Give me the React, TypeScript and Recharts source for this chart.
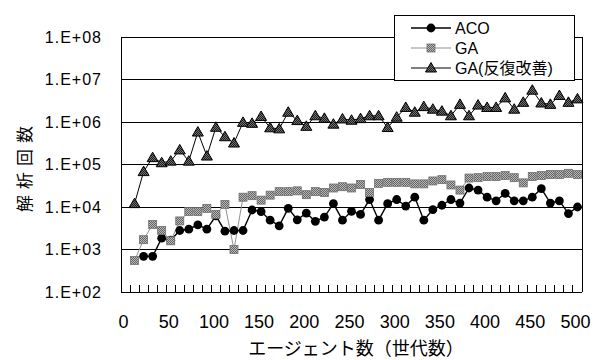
import React from 'react';
import { LineChart, Line, XAxis, YAxis, ReferenceLine } from 'recharts';

const generations = [
  10, 20, 30, 40, 50, 60, 70, 80, 90, 100,
  110, 120, 130, 140, 150, 160, 170, 180, 190, 200,
  210, 220, 230, 240, 250, 260, 270, 280, 290, 300,
  310, 320, 330, 340, 350, 360, 370, 380, 390, 400,
  410, 420, 430, 440, 450, 460, 470, 480, 490, 500,
];

const acoValues: (number | null)[] = [
  null, 690, 690, 1850, 1650, 2800, 3000, 3800, 3000, 6200,
  2700, 2800, 2800, 8500, 7800, 4900, 3600, 9300, 5000, 7200,
  4600, 5800, 12000, 4900, 7900, 6700, 15000, 4900, 12000, 15000,
  10500, 17000, 4900, 8700, 11000, 15000, 12400, 28000, 25000, 17000,
  14000, 21000, 14000, 14000, 17000, 27000, 12400, 14000, 7000, 10000,
];

const gaValues = [
  550, 1700, 3900, 2800, 1600, 4700, 7800, 7800, 9300, 6700,
  11500, 1000, 17000, 18500, 14500, 19000, 23000, 23000, 24000, 19500,
  23000, 22000, 28000, 30000, 28000, 34000, 22000, 36000, 38000, 38000,
  38000, 35000, 35000, 41000, 44000, 33000, 25000, 48000, 49000, 52000,
  52000, 55000, 49000, 37000, 52000, 55000, 58000, 58000, 62000, 58000,
];

const gaImprovedValues = [
  12000, 68000, 145000, 110000, 120000, 220000, 120000, 580000, 158000, 750000,
  450000, 320000, 980000, 930000, 1350000, 730000, 690000, 1700000, 1080000, 790000,
  1400000, 1220000, 890000, 1180000, 1100000, 1200000, 1400000, 1400000, 740000, 1300000,
  2200000, 1700000, 2300000, 2000000, 1800000, 1400000, 2600000, 1400000, 2500000, 2200000,
  2200000, 3700000, 2000000, 2900000, 5600000, 2800000, 2600000, 4200000, 2900000, 3500000,
];

const yTicks = [1e2, 1e3, 1e4, 1e5, 1e6, 1e7, 1e8];
const xMajorTicks = [0, 50, 100, 150, 200, 250, 300, 350, 400, 450, 500];
const xMinorTicks = [
  5, 15, 25, 35, 45, 55, 65, 75, 85, 95,
  105, 115, 125, 135, 145, 155, 165, 175, 185, 195,
  205, 215, 225, 235, 245, 255, 265, 275, 285, 295,
  305, 315, 325, 335, 345, 355, 365, 375, 385, 395,
  405, 415, 425, 435, 445, 455, 465, 475, 485, 495,
];
const seriesNames = ['ACO', 'GA', 'GA(反復改善)'];
const yTitle = '解析回数';
const xTitle = 'エージェント数（世代数）';

const data = generations.map((g, i) => ({
  x: g,
  aco: acoValues[i],
  ga: gaValues[i],
  gai: gaImprovedValues[i],
}));

const LATIN = "'Liberation Sans', Arial, sans-serif";
const CJK = "'Liberation Sans', 'Noto Sans CJK JP', sans-serif";

const CircleMark = ({ cx, cy }: { cx: number; cy: number }) => (
  <circle cx={cx} cy={cy} r={4.4} fill="#000" />
);
const SquareMark = ({ cx, cy }: { cx: number; cy: number }) => (
  <rect x={cx - 4} y={cy - 4} width={8} height={8} fill="url(#checker)" stroke="#707070" strokeWidth={0.8} />
);
const TriMark = ({ cx, cy }: { cx: number; cy: number }) => (
  <path
    d={`M${cx},${cy - 5.5} L${cx + 5.5},${cy + 4} L${cx - 5.5},${cy + 4} Z`}
    fill="url(#darkChecker)"
    stroke="#000"
    strokeWidth={1}
  />
);

const makeDot = (Mark: any) => (p: any) => {
  const key = `dot-${p.dataKey}-${p.index}`;
  if (p.cx == null || p.cy == null || p.value == null) return <g key={key} />;
  return (
    <g key={key}>
      <Mark cx={p.cx} cy={p.cy} />
    </g>
  );
};

const XTick = (props: any) => {
  const { x, y, payload } = props;
  return (
    <text x={x - 2} y={y} dy="0.71em" textAnchor="middle" fontSize={18} fill="#000" fontFamily={LATIN}>
      {payload.value}
    </text>
  );
};

const EmptyTick = () => <g />;

const yFmt = (v: number) => '1.E+' + String(Math.round(Math.log10(v))).padStart(2, '0');

const legendMarks = [CircleMark, SquareMark, TriMark];
const legendStrokes = ['#000', '#8f8f8f', '#000'];

export default function App() {
  return (
    <div style={{ position: 'absolute', left: 0, top: 0, width: 599, height: 360, background: '#fff' }}>
      <svg width={0} height={0} style={{ position: 'absolute' }}>
        <defs>
          <pattern id="checker" width={2} height={2} patternUnits="userSpaceOnUse">
            <rect width={2} height={2} fill="#b8b8b8" />
            <rect width={1} height={1} fill="#646464" />
            <rect x={1} y={1} width={1} height={1} fill="#646464" />
          </pattern>
          <pattern id="darkChecker" width={2} height={2} patternUnits="userSpaceOnUse">
            <rect width={2} height={2} fill="#707070" />
            <rect width={1} height={1} fill="#1e1e1e" />
            <rect x={1} y={1} width={1} height={1} fill="#1e1e1e" />
          </pattern>
        </defs>
      </svg>
      <LineChart width={599} height={360} data={data} margin={{ top: 37, right: 17, bottom: 0, left: 0 }}>
        <XAxis
          xAxisId="minor"
          dataKey="x"
          type="number"
          domain={[-5, 505]}
          ticks={xMinorTicks}
          interval={0}
          height={1}
          mirror
          tickSize={7}
          tickLine={{ stroke: '#000', strokeWidth: 1, shapeRendering: 'crispEdges' }}
          axisLine={false}
          tick={<EmptyTick />}
        />
        <XAxis
          dataKey="x"
          type="number"
          domain={[-5, 505]}
          ticks={xMajorTicks}
          interval={0}
          tickLine={false}
          tickSize={6}
          tickMargin={17}
          height={68}
          axisLine={false}
          tick={<XTick />}
        />
        <YAxis
          type="number"
          scale="log"
          domain={[1e2, 1e8]}
          ticks={yTicks}
          interval={0}
          allowDataOverflow
          width={121}
          tickLine={false}
          tickMargin={13}
          axisLine={{ stroke: '#000', shapeRendering: 'crispEdges' }}
          tickFormatter={yFmt}
          tick={{ fontSize: 16, fill: '#000', fontFamily: LATIN, letterSpacing: 1 }}
        />
        {yTicks.map((t) => (
          <ReferenceLine key={`grid-${t}`} y={t} stroke="#000" strokeWidth={1} shapeRendering="crispEdges" ifOverflow="visible" />
        ))}
        <ReferenceLine x={505} stroke="#000" strokeWidth={1} shapeRendering="crispEdges" ifOverflow="visible" />
        <Line
          dataKey="aco"
          name={seriesNames[0]}
          stroke="#000"
          strokeWidth={1.4}
          dot={makeDot(CircleMark)}
          isAnimationActive={false}
        />
        <Line
          dataKey="ga"
          name={seriesNames[1]}
          stroke="#8f8f8f"
          strokeWidth={1}
          dot={makeDot(SquareMark)}
          isAnimationActive={false}
        />
        <Line
          dataKey="gai"
          name={seriesNames[2]}
          stroke="#000"
          strokeWidth={1}
          dot={makeDot(TriMark)}
          isAnimationActive={false}
        />
      </LineChart>
      <svg
        width={599}
        height={360}
        style={{ position: 'absolute', left: 0, top: 0, pointerEvents: 'none' }}
      >
        <text
          x={25}
          y={166}
          transform="rotate(-90 25 166)"
          textAnchor="middle"
          dominantBaseline="central"
          fontSize={17}
          letterSpacing={6}
          fontFamily={CJK}
          fill="#000"
        >
          {yTitle}
        </text>
        <text
          x={356}
          y={349}
          textAnchor="middle"
          dominantBaseline="central"
          fontSize={18}
          fontFamily={CJK}
          fill="#000"
        >
          {xTitle}
        </text>
        <g transform="translate(394,15)">
          <rect x={0.5} y={0.5} width={180} height={65} fill="#fff" stroke="#000" strokeWidth={1} />
          {seriesNames.map((name, i) => {
            const cy = 13 + i * 20;
            const Mark = legendMarks[i];
            return (
              <g key={name}>
                <line x1={17} x2={57} y1={cy} y2={cy} stroke={legendStrokes[i]} strokeWidth={i === 0 ? 1.4 : 1} />
                <Mark cx={37} cy={cy} />
                <text x={61} y={cy} dominantBaseline="central" fontSize={16} fontFamily={CJK} fill="#000">
                  {name}
                </text>
              </g>
            );
          })}
        </g>
      </svg>
    </div>
  );
}
